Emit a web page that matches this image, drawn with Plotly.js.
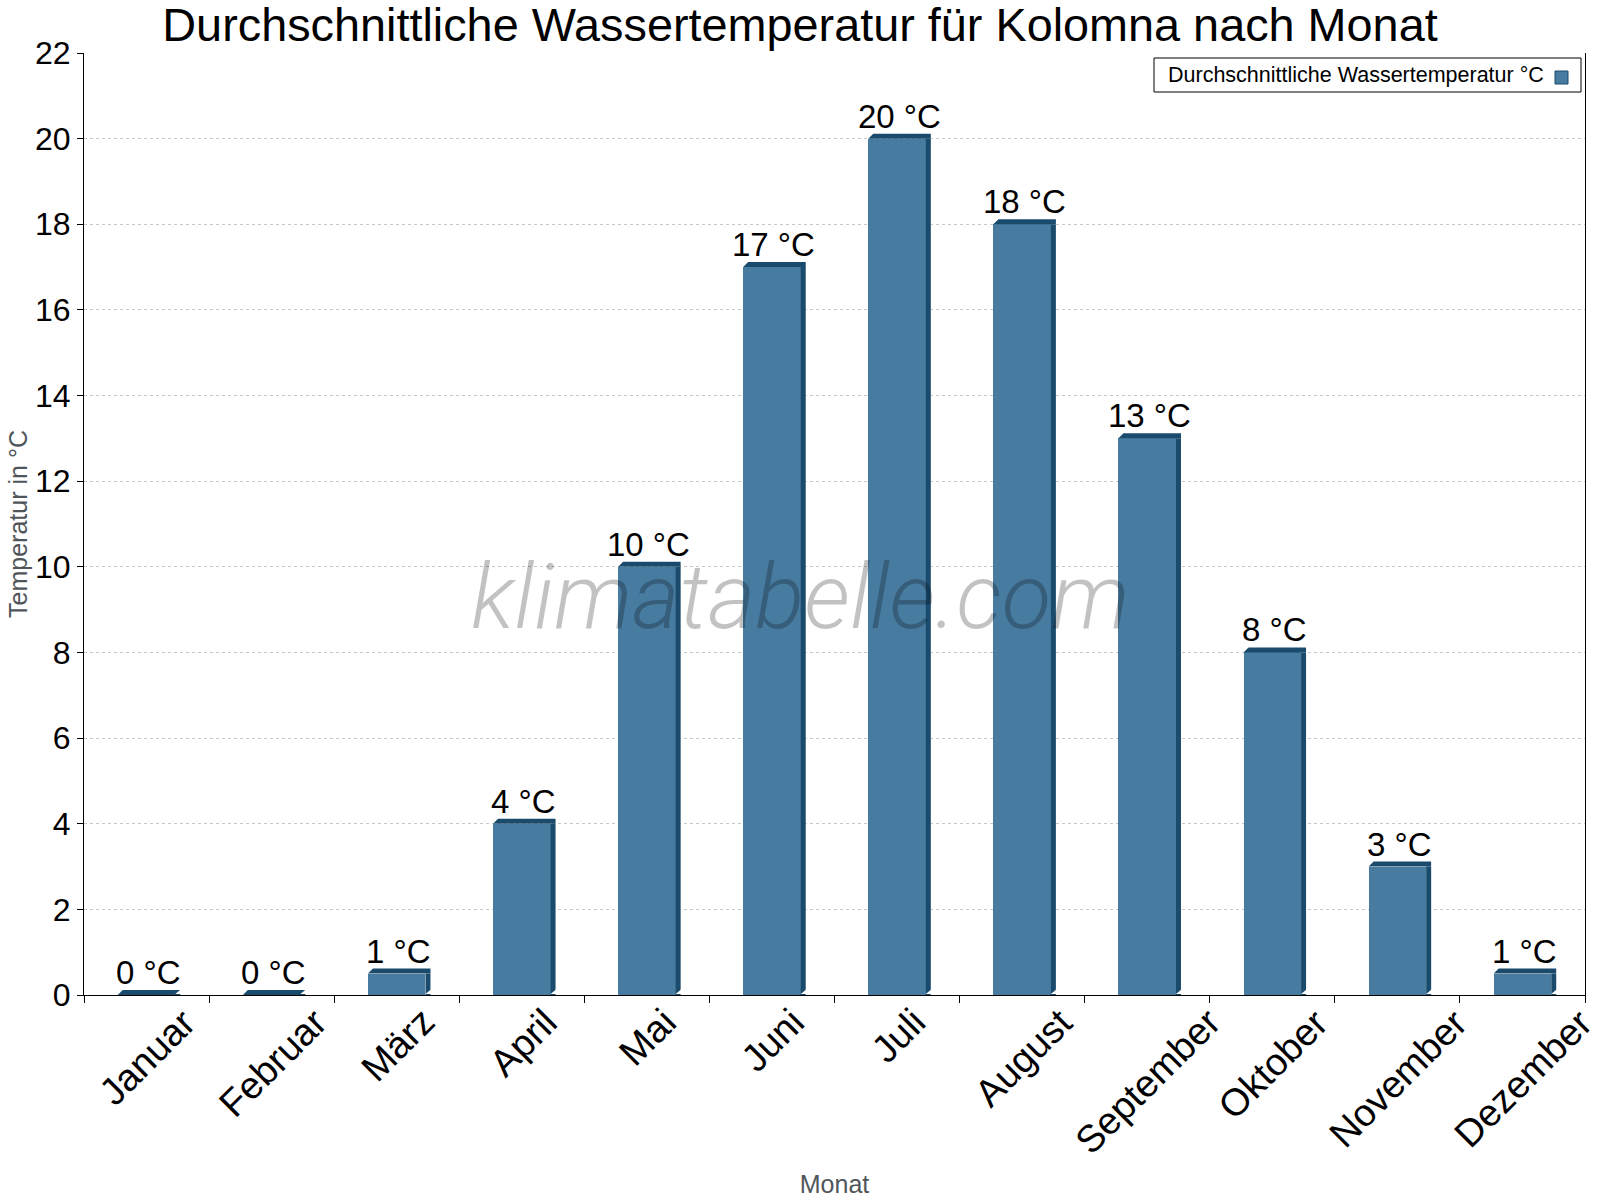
<!DOCTYPE html>
<html><head><meta charset="utf-8">
<script src="https://cdn.plot.ly/plotly-3.0.1.min.js"></script>
<style>html,body{margin:0;padding:0;background:#fff}</style>
</head><body><div id="chart" style="width:1600px;height:1200px"></div>
<script>
const months = ['Januar','Februar','März','April','Mai','Juni','Juli','August','September','Oktober','November','Dezember'];
const waterTemp = [0, 0, 0.5, 4, 10, 17, 20, 18, 13, 8, 3, 0.5];
const valueLabels = ['0 °C','0 °C','1 °C','4 °C','10 °C','17 °C','20 °C','18 °C','13 °C','8 °C','3 °C','1 °C'];
const seriesName = 'Durchschnittliche Wassertemperatur °C';
const yTicks = [0,2,4,6,8,10,12,14,16,18,20,22];

const W = 1600, H = 1200;
const M = {l: 84, r: 15, t: 53, b: 205};
const plotW = W - M.l - M.r;
const plotH = H - M.t - M.b;
const barW = 0.46;
const hw = barW * plotW / months.length / 2;
const d = 5;
const front = '#477ba0';
const dark = '#1b4b6c';
const FONT = 'Liberation Sans, Arial, sans-serif';

const idx = months.map((m, i) => i);

const shapes = [];
idx.forEach(i => {
  shapes.push({type: 'rect', xref: 'x', yref: 'y', xsizemode: 'pixel', xanchor: i,
    x0: hw, x1: hw + d, y0: 0, y1: waterTemp[i], fillcolor: dark, line: {width: 0}, layer: 'above'});
  shapes.push({type: 'path', xref: 'x', yref: 'y', xsizemode: 'pixel', ysizemode: 'pixel',
    xanchor: i, yanchor: waterTemp[i],
    path: `M${-hw},0 L${-hw + d},${d} L${hw + d},${d} L${hw + d},0 L${hw},0 Z`,
    fillcolor: dark, line: {width: 0}, layer: 'above'});
  shapes.push({type: 'path', xref: 'x', yref: 'y', xsizemode: 'pixel', ysizemode: 'pixel',
    xanchor: i, yanchor: 0,
    path: `M${hw},1 L${hw + d + 1},1 L${hw + d + 1},${d + 1} Z`,
    fillcolor: '#ffffff', line: {width: 0}, layer: 'above'});
});

const px = x => (x - M.l) / plotW;
const py = y => 1 - (y - M.t) / plotH;
shapes.push({type: 'rect', xref: 'paper', yref: 'paper', x0: px(1154), x1: px(1581), y0: py(92), y1: py(58),
  fillcolor: '#ffffff', line: {color: '#000', width: 1}, layer: 'above'});
shapes.push({type: 'rect', xref: 'paper', yref: 'paper', x0: px(1555), x1: px(1568), y0: py(84), y1: py(71),
  fillcolor: front, line: {color: dark, width: 1}, layer: 'above'});

const annotations = idx.map(i => ({
  x: i, y: waterTemp[i], xref: 'x', yref: 'y', text: valueLabels[i], showarrow: false,
  yanchor: 'bottom', xanchor: 'center', yshift: 2, xshift: 2,
  font: {family: FONT, size: 33, color: '#000'}
}));
// month labels rotated around their centre, hanging just below the axis
idx.forEach(i => annotations.push({
  x: i, y: 0, xref: 'x', yref: 'y', text: months[i], showarrow: false, textangle: -45,
  xanchor: 'center', yanchor: 'top', yshift: -3, xshift: 1,
  font: {family: FONT, size: 38, color: '#000'}
}));
annotations.push({x: px(1166), y: py(75), xref: 'paper', yref: 'paper', xanchor: 'left', yanchor: 'middle',
  text: seriesName, showarrow: false, font: {family: FONT, size: 21.5, color: '#000'}});
annotations.push({x: px(800), y: py(597), xref: 'paper', yref: 'paper', xanchor: 'center', yanchor: 'middle',
  text: '<i>klimatabelle.com</i>', showarrow: false,
  font: {family: 'Roboto, Liberation Sans, sans-serif', size: 91, weight: 300, style: 'italic', color: 'rgba(0,0,0,0.24)'}});

const trace = {
  type: 'bar', x: idx, y: waterTemp, name: seriesName, width: barW,
  marker: {color: front, line: {width: 0}}, hoverinfo: 'x+y', showlegend: false
};

const layout = {
  width: W, height: H, margin: M, paper_bgcolor: '#fff', plot_bgcolor: '#fff',
  font: {family: FONT, color: '#000'},
  title: {text: 'Durchschnittliche Wassertemperatur für Kolomna nach Monat', x: 0.5, xref: 'container',
    y: 1 - 25 / H, yref: 'container', yanchor: 'middle', font: {family: FONT, size: 46.8, color: '#000'}},
  showlegend: false,
  xaxis: {type: 'linear', range: [-0.5, 11.5], tickmode: 'linear', tick0: -0.5, dtick: 1, ticks: 'outside',
    ticklen: 7, tickcolor: '#000', showticklabels: false,
    showline: true, linecolor: '#000', linewidth: 1, showgrid: false, zeroline: false,
    title: {text: 'Monat', font: {family: FONT, size: 25, color: '#50555a'}, standoff: 173}},
  yaxis: {range: [0, 22], tickmode: 'array', tickvals: yTicks, ticks: 'outside', ticklen: 6, tickcolor: '#000',
    tickfont: {family: FONT, size: 32, color: '#000'}, showline: true, mirror: true, linecolor: '#000', linewidth: 1,
    showgrid: true, gridcolor: '#c8c8c8', griddash: 'dot', gridwidth: 1, zeroline: false,
    title: {text: 'Temperatur in °C', font: {family: FONT, size: 25, color: '#50555a'}, standoff: 0}},
  shapes: shapes, annotations: annotations, bargap: 0
};

Plotly.newPlot('chart', [trace], layout, {displayModeBar: false, staticPlot: true});
</script></body></html>
